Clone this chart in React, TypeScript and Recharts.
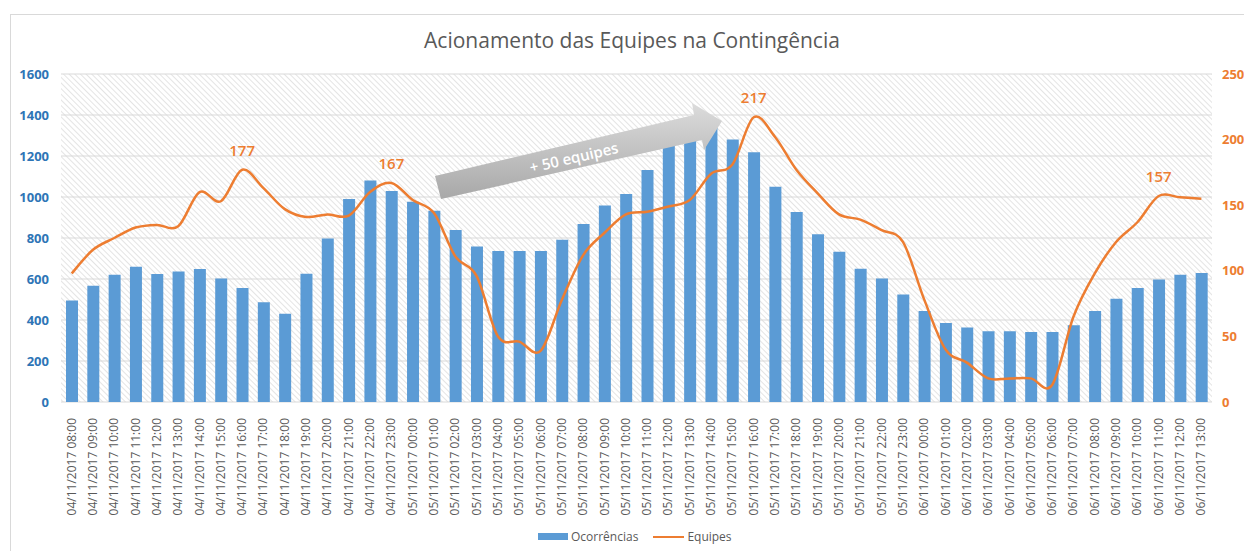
import React from "react";
import { Bar, CartesianGrid, ComposedChart, LabelList, Line, XAxis, YAxis } from "recharts";

const categories = [
  "04/11/2017 08:00", "04/11/2017 09:00", "04/11/2017 10:00", "04/11/2017 11:00", "04/11/2017 12:00",
  "04/11/2017 13:00", "04/11/2017 14:00", "04/11/2017 15:00", "04/11/2017 16:00", "04/11/2017 17:00",
  "04/11/2017 18:00", "04/11/2017 19:00", "04/11/2017 20:00", "04/11/2017 21:00", "04/11/2017 22:00",
  "04/11/2017 23:00", "05/11/2017 00:00", "05/11/2017 01:00", "05/11/2017 02:00", "05/11/2017 03:00",
  "05/11/2017 04:00", "05/11/2017 05:00", "05/11/2017 06:00", "05/11/2017 07:00", "05/11/2017 08:00",
  "05/11/2017 09:00", "05/11/2017 10:00", "05/11/2017 11:00", "05/11/2017 12:00", "05/11/2017 13:00",
  "05/11/2017 14:00", "05/11/2017 15:00", "05/11/2017 16:00", "05/11/2017 17:00", "05/11/2017 18:00",
  "05/11/2017 19:00", "05/11/2017 20:00", "05/11/2017 21:00", "05/11/2017 22:00", "05/11/2017 23:00",
  "06/11/2017 00:00", "06/11/2017 01:00", "06/11/2017 02:00", "06/11/2017 03:00", "06/11/2017 04:00",
  "06/11/2017 05:00", "06/11/2017 06:00", "06/11/2017 07:00", "06/11/2017 08:00", "06/11/2017 09:00",
  "06/11/2017 10:00", "06/11/2017 11:00", "06/11/2017 12:00", "06/11/2017 13:00",
];

const ocorrencias = [
  495, 567, 621, 660, 624, 636, 649, 603, 556, 486,
  431, 626, 797, 990, 1080, 1029, 977, 933, 839, 759,
  737, 737, 737, 792, 868, 959, 1015, 1132, 1250, 1280,
  1340, 1280, 1218, 1050, 927, 818, 733, 650, 603, 524,
  444, 385, 364, 345, 345, 341, 341, 374, 444, 504,
  556, 597, 621, 629,
];

const equipes = [
  98, 116, 125, 133, 135, 134, 160, 153, 177, 163,
  147, 141, 143, 142, 160, 167, 154, 144, 111, 96,
  50, 46, 39, 78, 112, 129, 143, 145, 149, 154,
  174, 181, 217, 202, 177, 159, 143, 139, 131, 122,
  78, 40, 30, 18, 18, 18, 13, 65, 98, 122,
  137, 157, 156, 155,
];

// points that carry a value label in the original
const labelledAt = ["04/11/2017 16:00", "04/11/2017 23:00", "05/11/2017 16:00", "06/11/2017 11:00"];

const leftTicks = [0, 200, 400, 600, 800, 1000, 1200, 1400, 1600];
const rightTicks = [0, 50, 100, 150, 200, 250];

const rows = categories.map((c, i) => ({ label: c, Ocorrências: ocorrencias[i], Equipes: equipes[i] }));

const FONT = "'Open Sans', 'Liberation Sans', sans-serif";
const BLUE = "#5B9BD5";
const ORANGE = "#ED7D31";
const GREY = "#595959";

// Excel-like smoothed line (Catmull-Rom)
const smooth = (ctx: any) => {
  let pts: number[][] = [];
  return {
    areaStart() {},
    areaEnd() {},
    lineStart() {
      pts = [];
    },
    point(x: number, y: number) {
      pts.push([+x, +y]);
    },
    lineEnd() {
      if (!pts.length) return;
      ctx.moveTo(pts[0][0], pts[0][1]);
      for (let i = 0; i < pts.length - 1; i++) {
        const p0 = pts[i - 1] || pts[i];
        const p1 = pts[i];
        const p2 = pts[i + 1];
        const p3 = pts[i + 2] || p2;
        const t = 1 / 6;
        ctx.bezierCurveTo(
          p1[0] + (p2[0] - p0[0]) * t,
          p1[1] + (p2[1] - p0[1]) * t,
          p2[0] - (p3[0] - p1[0]) * t,
          p2[1] - (p3[1] - p1[1]) * t,
          p2[0],
          p2[1]
        );
      }
    },
  };
};

const XTick = ({ x, y, payload }: any) => (
  <g transform={`translate(${x},${y})`}>
    <text transform="rotate(-90)" x={-8} y={0} dy={4} textAnchor="end" fontSize={12} fill={GREY} fontFamily={FONT}>
      {payload.value}
    </text>
  </g>
);

const PeakLabel = (props: any) => {
  const { x, y, value, index } = props;
  if (!labelledAt.includes(categories[index])) return null;
  return (
    <text x={x} y={y - 14} textAnchor="middle" fontSize={15} fontWeight={600} fill={ORANGE} fontFamily={FONT}>
      {value}
    </text>
  );
};

export default function App() {
  return (
    <div style={{ position: "absolute", left: 0, top: 0, width: 1244, height: 551, background: "#fff", overflow: "hidden", fontFamily: FONT }}>
      <div style={{ position: "absolute", left: 10, top: 14, width: 1300, height: 600, border: "1px solid #d9d9d9" }} />
      <div style={{ position: "absolute", left: 0, top: 26, width: 1264, textAlign: "center", fontSize: 21, color: GREY }}>
        Acionamento das Equipes na Contingência
      </div>
      <div style={{ position: "absolute", left: 0, top: 0 }}>
        <ComposedChart width={1244} height={551} data={rows} margin={{ top: 74, right: 0, bottom: 0, left: 10 }} barCategoryGap="44%">
          <defs>
            <pattern id="hatch" width="4" height="4" patternUnits="userSpaceOnUse" patternTransform="rotate(-45)">
              <rect width="4" height="4" fill="#ffffff" />
              <line x1="0" y1="0" x2="0" y2="4" stroke="#d2d2d2" strokeWidth="1.2" />
            </pattern>
          </defs>
          <CartesianGrid vertical={false} stroke="#d9d9d9" fill="url(#hatch)" yAxisId="left" />
          <XAxis dataKey="label" interval={0} height={149} tick={<XTick />} axisLine={false} tickLine={false} />
          <YAxis
            yAxisId="left"
            width={51}
            domain={[0, 1600]}
            ticks={leftTicks}
            axisLine={false}
            tickLine={false}
            tick={{ fontSize: 13, fontWeight: 700, fill: "#2E75B6", fontFamily: FONT, dx: -4 }}
          />
          <YAxis
            yAxisId="right"
            orientation="right"
            width={32}
            domain={[0, 250]}
            ticks={rightTicks}
            axisLine={false}
            tickLine={false}
            tick={{ fontSize: 13, fontWeight: 700, fill: ORANGE, fontFamily: FONT, dx: 2 }}
          />
          <Bar yAxisId="left" dataKey="Ocorrências" fill={BLUE} barSize={12} isAnimationActive={false} />
          <Line
            yAxisId="right"
            dataKey="Equipes"
            type={smooth as any}
            stroke={ORANGE}
            strokeWidth={2.5}
            dot={false}
            activeDot={false}
            isAnimationActive={false}
          >
            <LabelList dataKey="Equipes" content={<PeakLabel />} />
          </Line>
        </ComposedChart>
      </div>
      <svg style={{ position: "absolute", left: 0, top: 0 }} width={1244} height={551}>
        <defs>
          <linearGradient id="arrowFill" x1="0" y1="0" x2="0" y2="1">
            <stop offset="0%" stopColor="#dcdcdc" />
            <stop offset="100%" stopColor="#a8a8a8" />
          </linearGradient>
        </defs>
        <polygon points="435,176 694,115 692,103 722,121 704,150 702,140 441,199" fill="url(#arrowFill)" />
        <text
          x={574}
          y={163}
          transform="rotate(-13 574 158)"
          textAnchor="middle"
          fontSize={15}
          fontWeight={600}
          fill="#ffffff"
          fontFamily={FONT}
        >
          + 50 equipes
        </text>
      </svg>
      <div style={{ position: "absolute", top: 528, left: 538, display: "flex", alignItems: "center", fontSize: 12, color: GREY }}>
        <span style={{ display: "inline-block", width: 30, height: 7, background: BLUE, marginRight: 3 }} />
        <span style={{ marginRight: 15 }}>Ocorrências</span>
        <span style={{ display: "inline-block", width: 31, height: 2, background: ORANGE, marginRight: 3 }} />
        <span>Equipes</span>
      </div>
    </div>
  );
}
